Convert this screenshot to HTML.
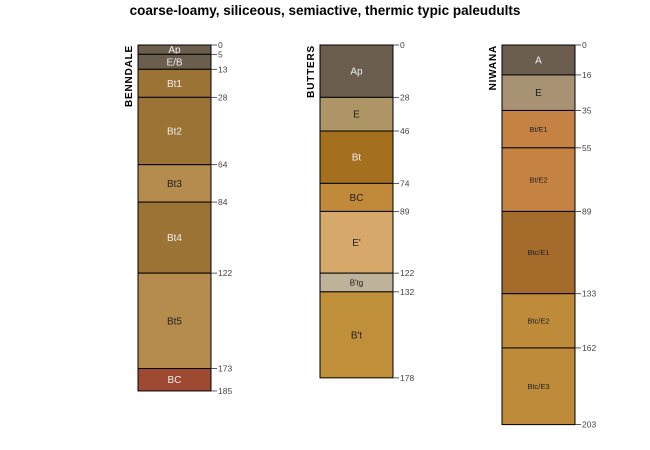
<!DOCTYPE html>
<html><head><meta charset="utf-8"><style>
body{margin:0;background:#fff}
svg{display:block;font-family:"Liberation Sans",sans-serif}
</style></head><body>
<svg id="chart" width="650" height="450" viewBox="0 0 650 450">
<text x="325" y="15" text-anchor="middle" font-size="13.5" font-weight="bold">coarse-loamy, siliceous, semiactive, thermic typic paleudults</text>
</svg>
<script>
const profileNames = ["BENNDALE", "BUTTERS", "NIWANA"];
const benndaleHorizons = ["Ap", "E/B", "Bt1", "Bt2", "Bt3", "Bt4", "Bt5", "BC"];
const benndaleDepths = [0, 5, 13, 28, 64, 84, 122, 173, 185];
const benndaleColors = ["#6b5e4f", "#6b5e4f", "#9a7335", "#9a7335", "#b58b4e", "#9a7335", "#b58b4e", "#9e4a30"];
const buttersHorizons = ["Ap", "E", "Bt", "BC", "E'", "B'tg", "B't"];
const buttersDepths = [0, 28, 46, 74, 89, 122, 132, 178];
const buttersColors = ["#6b5e4f", "#ad9565", "#a5701e", "#c08a3a", "#d6a96a", "#bfb29a", "#c08f3a"];
const niwanaHorizons = ["A", "E", "Bt/E1", "Bt/E2", "Btc/E1", "Btc/E2", "Btc/E3"];
const niwanaDepths = [0, 16, 35, 55, 89, 133, 162, 203];
const niwanaColors = ["#6b5e4f", "#a89274", "#c58343", "#c58343", "#a56b2a", "#be8b3a", "#be8b3a"];
const lightText = [[1,1,1,1,0,1,0,1],[1,0,1,0,0,0,0],[1,0,0,0,0,0,0]];

const svg = document.getElementById('chart');
const NS = 'http://www.w3.org/2000/svg';
const top0 = 45, pxPerCm = 1.87;
const y = d => top0 + d * pxPerCm;
const colX = [138, 320, 502], colW = 73;
const profiles = [
  [benndaleHorizons, benndaleDepths, benndaleColors],
  [buttersHorizons, buttersDepths, buttersColors],
  [niwanaHorizons, niwanaDepths, niwanaColors]
];
function mk(tag, attrs, txt){const e=document.createElementNS(NS,tag);for(const k in attrs)e.setAttribute(k,attrs[k]);if(txt!==undefined)e.textContent=txt;svg.appendChild(e);return e;}

profiles.forEach((p, i) => {
  const [hz, dp, cl] = p; const x = colX[i];
  const nm = mk('text', {x: x-6, y: top0, 'font-size': 10, 'font-weight':'bold', 'text-anchor':'end', transform:`rotate(-90 ${x-6} ${top0})`, 'letter-spacing':'0.8'}, profileNames[i]);
  
  
  hz.forEach((h, j) => {
    const y1 = y(dp[j]), y2 = y(dp[j+1]);
    const r = mk('rect', {x, y: y1, width: colW, height: y2-y1, fill: cl[j], stroke:'#000', 'stroke-width': 1});
    
    
    const fs = h.length > 4 ? 7.5 : (h.length > 3 ? 8 : 10);
    const t = mk('text', {x: x+colW/2, y: (y1+y2)/2 + fs*0.35, 'font-size': fs, 'text-anchor':'middle', fill: lightText[i][j] ? '#eeeeee' : '#222'}, h);
    
    
  });
  let prevLy = -100;
  dp.forEach((d) => {
    const ty = y(d);
    let ly = Math.max(ty, prevLy + 8);
    if (d === 0) ly = ty;
    prevLy = ly;
    const tk = mk('line', {x1: x+colW, x2: x+colW+6, y1: ty, y2: ly, stroke:'#333', 'stroke-width':0.8});
    
    
    const lb = mk('text', {x: x+colW+7, y: ly+3, 'font-size': 8.5, fill:'#444'}, String(d));
    
    
  });
});
</script>
</body></html>
